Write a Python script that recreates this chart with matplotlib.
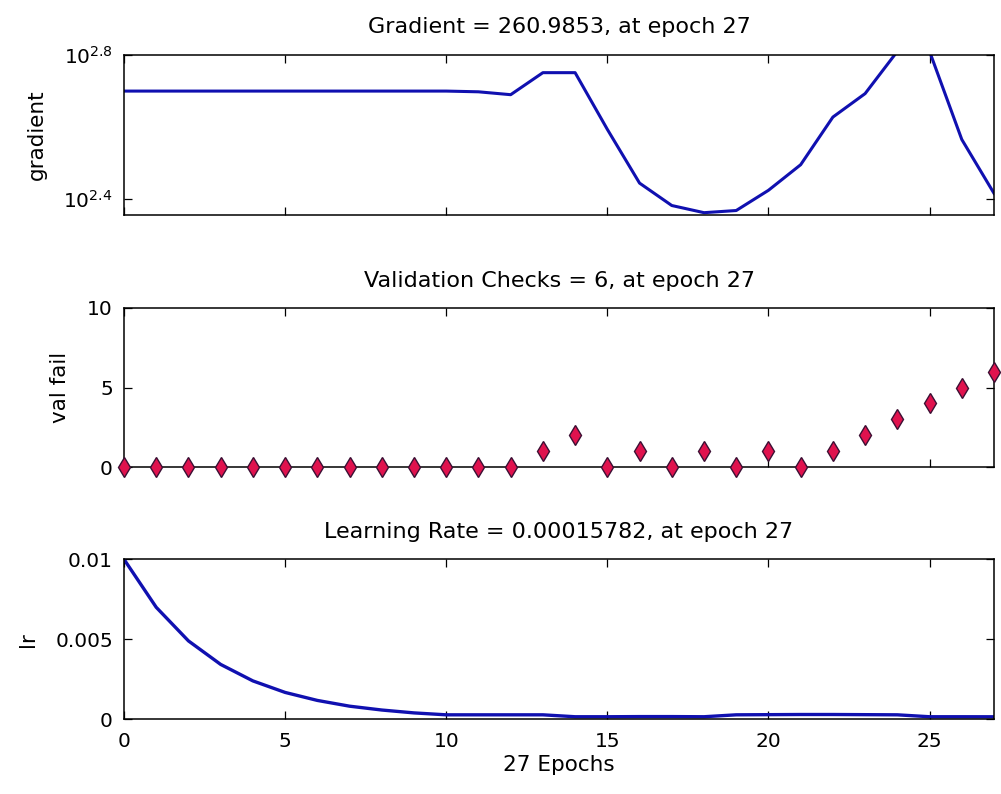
import numpy as np
import matplotlib
matplotlib.use("Agg")
import matplotlib.pyplot as plt
from matplotlib.ticker import FixedLocator, FixedFormatter, NullLocator

# Training record, one value per epoch
epochs = list(range(28))
gradient = [501.2, 501.2, 501.2, 501.2, 501.2, 501.2, 501.2, 501.2, 501.2, 501.2,
            501.2, 498.9, 489.8, 563.7, 563.7, 392.6, 278.6, 241.5, 230.7, 233.9,
            266.1, 313.3, 424.6, 493.2, 645.7, 645.7, 368.1, 260.9853]
val_fail = [0, 0, 0, 0, 0, 0, 0, 0, 0, 0, 0, 0, 0, 1, 2, 0, 1, 0, 1, 0,
            1, 0, 1, 2, 3, 4, 5, 6]
learning_rate = [0.01, 0.007, 0.0049, 0.00343, 0.0024, 0.00168, 0.00118, 0.00082,
                 0.00058, 0.0004, 0.00028, 0.00028, 0.00028, 0.00028, 0.00016,
                 0.00016, 0.00017, 0.00017, 0.00016, 0.00028, 0.00029, 0.0003,
                 0.0003, 0.00029, 0.00028, 0.00016, 0.00016, 0.00015782]

grad_ticks = [10 ** 2.4, 10 ** 2.8]
grad_tick_labels = [r"$10^{2.4}$", r"$10^{2.8}$"]
x_ticks = [0, 5, 10, 15, 20, 25]

LINE = "#1010b0"
FACE = "#e0124e"
EDGE = "#3c1034"
TICK_FS = 14.5
TITLE_FS = 16
LABEL_FS = 15.5

plt.rcParams["font.family"] = ["DejaVu Sans"]
plt.rcParams["mathtext.fontset"] = "dejavusans"

fig = plt.figure(figsize=(10.01, 7.94), dpi=100)
W, H = 1001, 794
left, right = 124 / W, 994 / W


def make_axes(top_px, bottom_px):
    ax = fig.add_axes([left, 1 - bottom_px / H, right - left, (bottom_px - top_px) / H])
    for sp in ax.spines.values():
        sp.set_linewidth(1.1)
        sp.set_color("black")
    ax.tick_params(direction="in", length=6, width=0.9, top=True, right=True,
                   labelsize=TICK_FS, pad=8, colors="black")
    ax.tick_params(axis="x", pad=9)
    ax.set_xlim(0, 27)
    ax.xaxis.set_major_locator(FixedLocator(x_ticks))
    return ax


ax1 = make_axes(55, 214.5)
ax2 = make_axes(307.7, 467.3)
ax3 = make_axes(559.3, 719.3)

# Gradient
ax1.plot(epochs, gradient, color=LINE, lw=2.2, solid_joinstyle="round")
ax1.set_yscale("log")
ax1.set_ylim(10 ** 2.358, 10 ** 2.8)
ax1.yaxis.set_major_locator(FixedLocator(grad_ticks))
ax1.yaxis.set_major_formatter(FixedFormatter(grad_tick_labels))
ax1.yaxis.set_minor_locator(NullLocator())
ax1.set_xticklabels([])
ax1.set_ylabel("gradient", fontsize=LABEL_FS, labelpad=12)
ax1.set_title("Gradient = 260.9853, at epoch 27", fontsize=TITLE_FS, pad=16)

# Validation checks
ax2.plot(epochs, val_fail, linestyle="none", marker="d", markersize=10,
         markerfacecolor=FACE, markeredgecolor=EDGE, markeredgewidth=1.0,
         clip_on=False, zorder=3)
ax2.set_ylim(0, 10)
ax2.set_yticks([0, 5, 10])
ax2.set_xticklabels([])
ax2.set_ylabel("val fail", fontsize=LABEL_FS, labelpad=12)
ax2.set_title("Validation Checks = 6, at epoch 27", fontsize=TITLE_FS, pad=15)

# Learning rate
ax3.plot(epochs, learning_rate, color=LINE, lw=2.4, solid_joinstyle="round")
ax3.set_ylim(0, 0.01)
ax3.set_yticks([0, 0.005, 0.01])
ax3.set_yticklabels(["0", "0.005", "0.01"])
ax3.set_ylabel("lr", fontsize=LABEL_FS, labelpad=12)
ax3.set_xlabel("27 Epochs", fontsize=LABEL_FS, labelpad=3)
ax3.set_title("Learning Rate = 0.00015782, at epoch 27", fontsize=TITLE_FS, pad=15)

fig.savefig("out.png", dpi=100, facecolor="white")
